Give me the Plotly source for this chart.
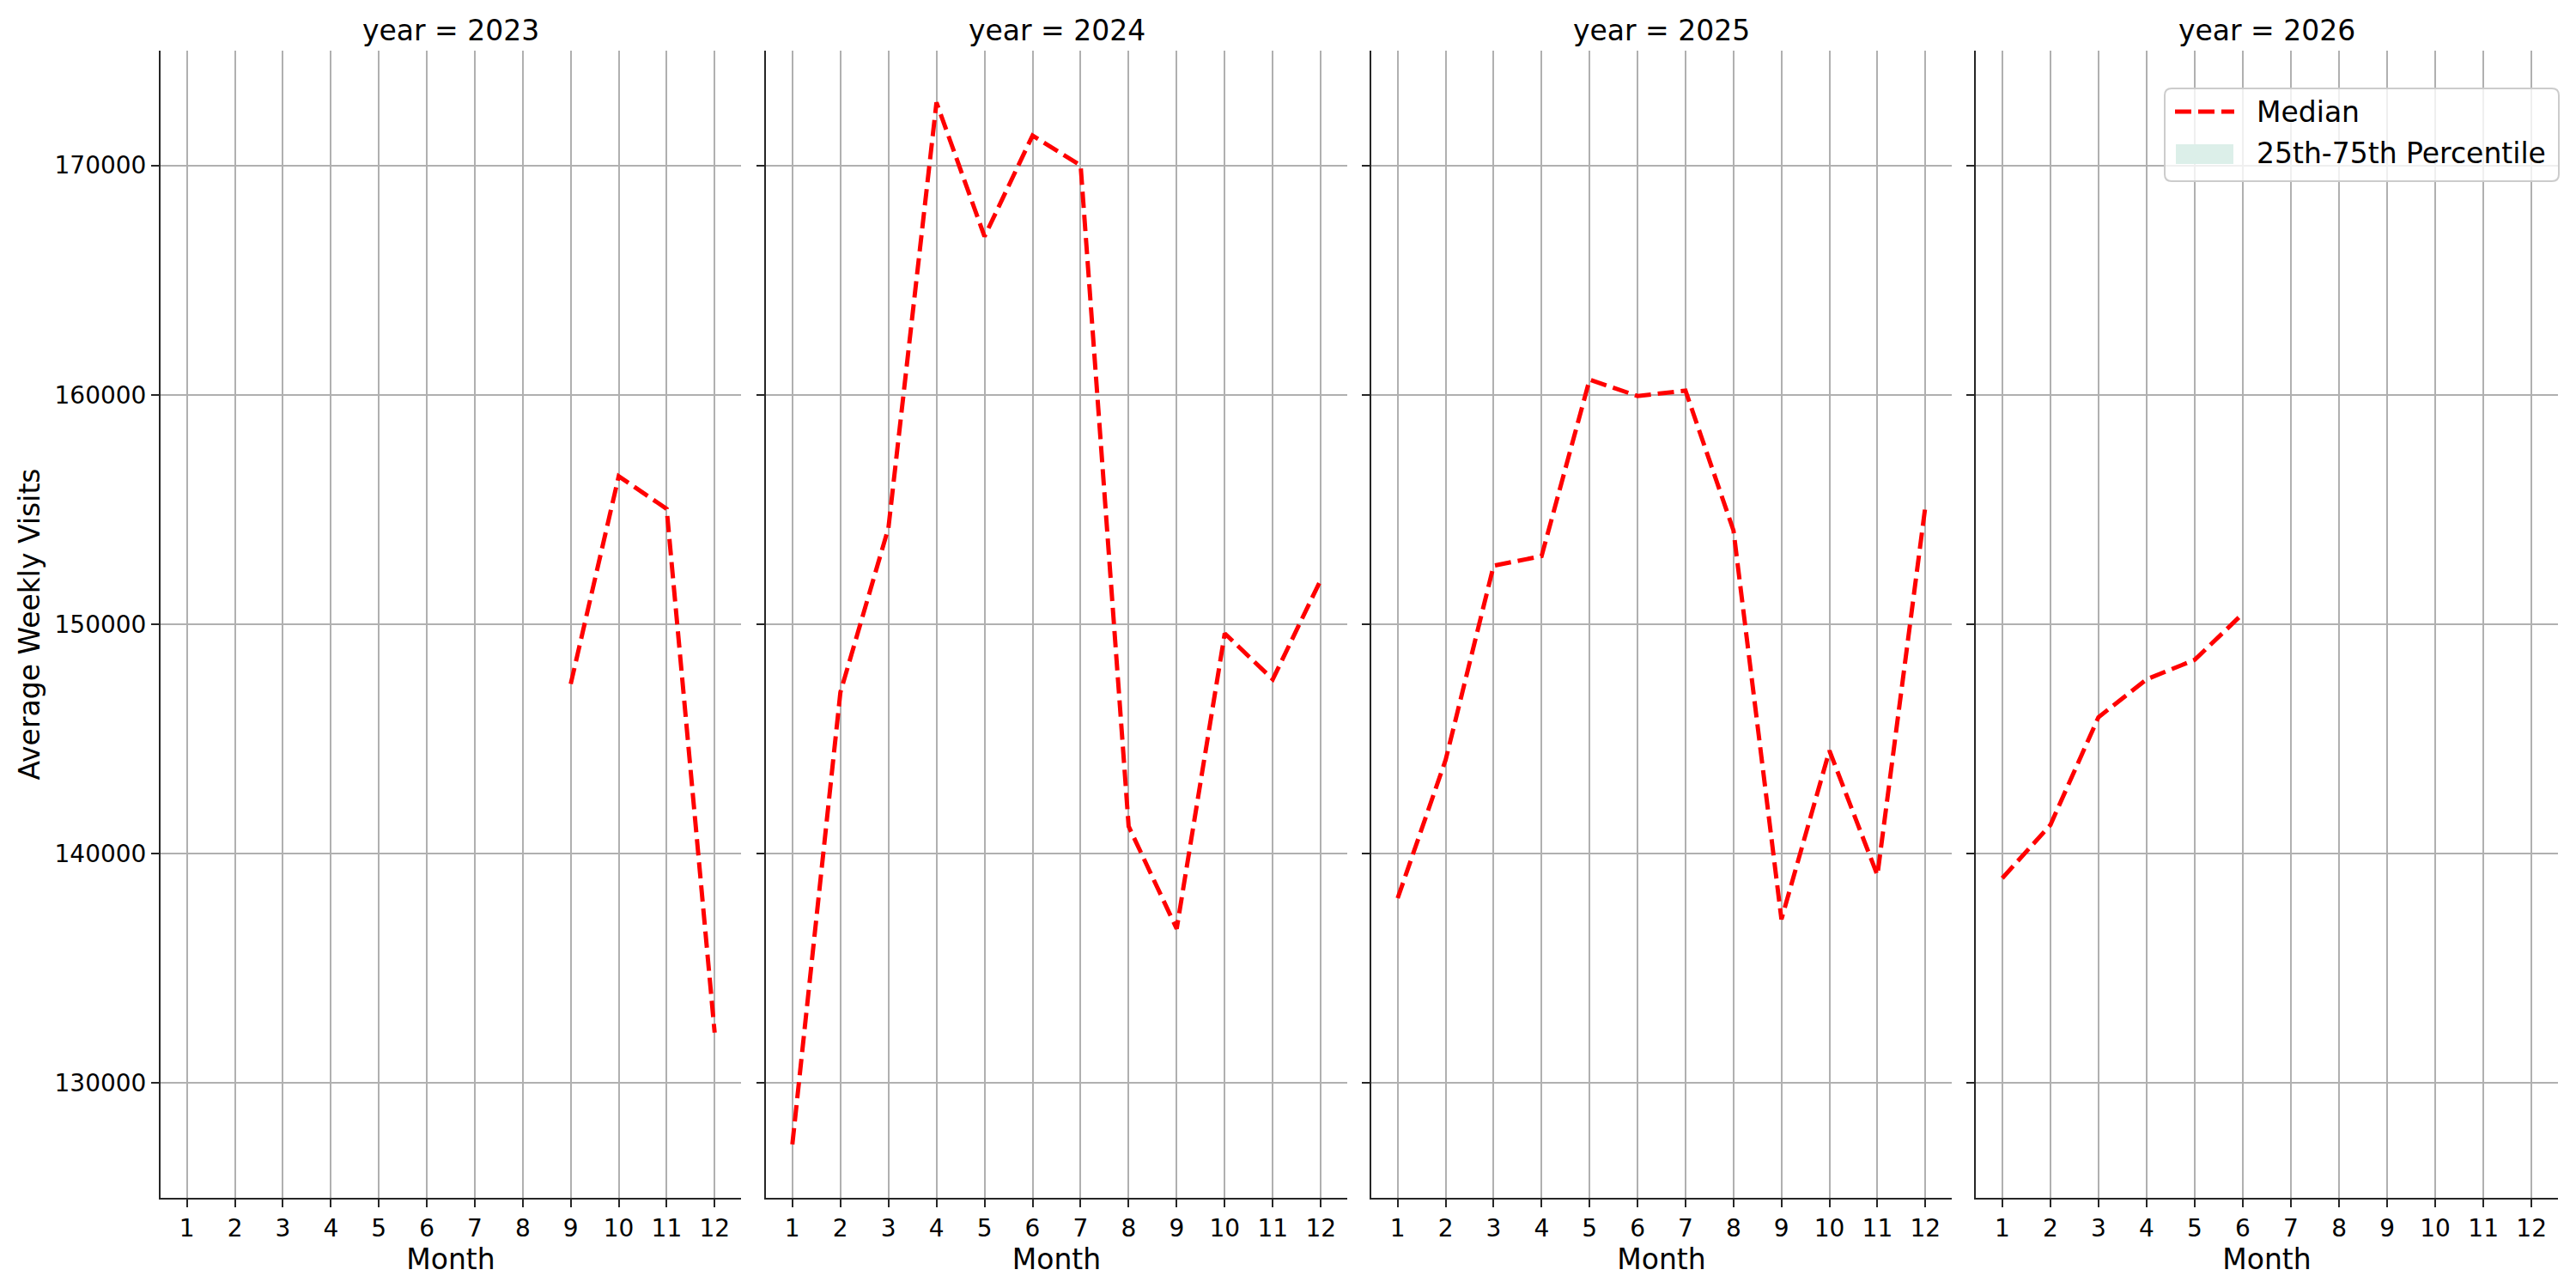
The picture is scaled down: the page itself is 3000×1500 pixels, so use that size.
import plotly.graph_objects as go

years = [2023, 2024, 2025, 2026]
months_2023 = [9, 10, 11, 12]
median_2023 = [147400, 156450, 155030, 132200]
months_2024 = [1, 2, 3, 4, 5, 6, 7, 8, 9, 10, 11, 12]
median_2024 = [127330, 147030, 154200, 172740, 166900, 171300, 170000, 141190, 136730, 149600, 147600, 151940]
months_2025 = [1, 2, 3, 4, 5, 6, 7, 8, 9, 10, 11, 12]
median_2025 = [138060, 144090, 152550, 152970, 160660, 159950, 160180, 154090, 137140, 144490, 139060, 155140]
months_2026 = [1, 2, 3, 4, 5, 6]
median_2026 = [138930, 141250, 145950, 147600, 148450, 150460]

series = {
    2023: (months_2023, median_2023),
    2024: (months_2024, median_2024),
    2025: (months_2025, median_2025),
    2026: (months_2026, median_2026),
}
month_ticks = list(range(1, 13))
y_ticks = [130000, 140000, 150000, 160000, 170000]
legend_labels = ["Median", "25th-75th Percentile"]

W, H = 3000, 1500
ml, mr, mt, mb = 187, 21, 59, 105
pw = W - ml - mr
ph = H - mt - mb
px_domains = [(187, 863), (892, 1569), (1597, 2273), (2301, 2979)]
domains = [((a - ml) / pw, (b - ml) / pw) for a, b in px_domains]


def px(x):
    return (x - ml) / pw


def py(y):
    return (H - mb - y) / ph


FONT = "DejaVu Sans"
SPINE = "#262626"
GRID = "#b0b0b0"
LINE_RED = "#ff0000"
BAND = "#dcefe9"
DASH = "19px,8px"

fig = go.Figure()
for i, yr in enumerate(years):
    xs, ys = series[yr]
    ax = "" if i == 0 else str(i + 1)
    fig.add_trace(go.Scatter(
        x=xs, y=ys, mode="lines",
        line=dict(color=LINE_RED, width=5, dash=DASH),
        name="Median", showlegend=False,
        xaxis="x" + ax, yaxis="y" + ax,
    ))

layout = dict(
    width=W, height=H,
    margin=dict(l=ml, r=mr, t=mt, b=mb),
    paper_bgcolor="white", plot_bgcolor="white",
    font=dict(family=FONT, color="black", size=28),
    showlegend=False,
)
annotations = []
for i, yr in enumerate(years):
    ax = "" if i == 0 else str(i + 1)
    layout["xaxis" + ax] = dict(
        domain=list(domains[i]), anchor="y" + ax,
        range=[0.45, 12.55], tickvals=month_ticks,
        showgrid=True, gridcolor=GRID, gridwidth=2,
        showline=True, linecolor=SPINE, linewidth=2,
        ticks="outside", ticklen=9, tickwidth=2, tickcolor=SPINE,
        tickfont=dict(size=28, family=FONT),
        title=dict(text="Month", font=dict(size=33, family=FONT), standoff=1),
        zeroline=False, fixedrange=True,
    )
    ydict = dict(
        anchor="x" + ax, domain=[0, 1],
        range=[125000, 175000], tickvals=y_ticks, tickformat="d",
        showgrid=True, gridcolor=GRID, gridwidth=2,
        showline=True, linecolor=SPINE, linewidth=2,
        ticks="outside", ticklen=9, tickwidth=2, tickcolor=SPINE,
        tickfont=dict(size=28, family=FONT),
        showticklabels=(i == 0), zeroline=False,
    )
    if i == 0:
        ydict["title"] = dict(text="Average Weekly Visits", font=dict(size=33, family=FONT), standoff=7)
    else:
        ydict["matches"] = "y"
    layout["yaxis" + ax] = ydict
    annotations.append(dict(
        text=f"year = {yr}", x=sum(domains[i]) / 2, y=1.0,
        xref="paper", yref="paper", xanchor="center", yanchor="bottom",
        yshift=2, showarrow=False, font=dict(size=33, family=FONT),
    ))

# manual legend (matplotlib-style box)
x0, x1, y0, y1, r = 2521, 2980, 103, 211, 8
path = (f"M {px(x0 + r)} {py(y0)} L {px(x1 - r)} {py(y0)} "
        f"Q {px(x1)} {py(y0)} {px(x1)} {py(y0 + r)} L {px(x1)} {py(y1 - r)} "
        f"Q {px(x1)} {py(y1)} {px(x1 - r)} {py(y1)} L {px(x0 + r)} {py(y1)} "
        f"Q {px(x0)} {py(y1)} {px(x0)} {py(y1 - r)} L {px(x0)} {py(y0 + r)} "
        f"Q {px(x0)} {py(y0)} {px(x0 + r)} {py(y0)} Z")
shapes = [
    dict(type="path", path=path, xref="paper", yref="paper",
         fillcolor="rgba(255,255,255,0.8)", line=dict(color="#cccccc", width=2), layer="above"),
    dict(type="line", xref="paper", yref="paper",
         x0=px(2533), x1=px(2602), y0=py(130), y1=py(130),
         line=dict(color=LINE_RED, width=5, dash=DASH), layer="above"),
    dict(type="rect", xref="paper", yref="paper",
         x0=px(2534), x1=px(2601), y0=py(191), y1=py(168),
         fillcolor=BAND, line=dict(width=0), layer="above"),
]
for lbl, yc in zip(legend_labels, [130, 178]):
    annotations.append(dict(
        text=lbl, x=px(2626), y=py(yc), xref="paper", yref="paper",
        xanchor="left", yanchor="middle", showarrow=False,
        font=dict(size=33, family=FONT),
    ))
layout["annotations"] = annotations
layout["shapes"] = shapes
fig.update_layout(**layout)

fig.write_html("out.html")
